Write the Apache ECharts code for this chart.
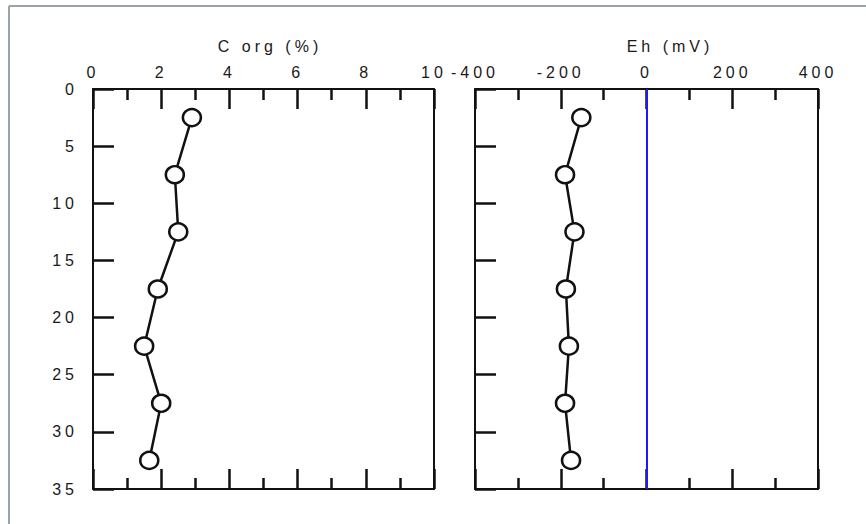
<!DOCTYPE html>
<html>
<head>
<meta charset="utf-8">
<script src="https://cdn.jsdelivr.net/npm/echarts@6/dist/echarts.min.js"></script>
<style>
html,body{margin:0;padding:0;background:#fff;}
#c{width:866px;height:524px;}
#c text{letter-spacing:4px;}
</style>
</head>
<body>
<div id="c"></div>
<script>
const depths = [2.5, 7.5, 12.5, 17.5, 22.5, 27.5, 32.5];
const corgValues = [2.9, 2.4, 2.5, 1.9, 1.5, 2.0, 1.65];
const ehValues = [-152, -190, -168, -188, -181, -190, -176];
const depthTicks = [0, 5, 10, 15, 20, 25, 30, 35];
const corgTicks = [0, 2, 4, 6, 8, 10];
const ehTicks = [-400, -200, 0, 200, 400];
const titles = ['C org (%)', 'Eh (mV)'];

const FONT = 'Liberation Sans, Arial, sans-serif';
const TXT = '#1a1a1a';

function xAx(gridIndex, min, max, interval, top) {
  return {
    type: 'value', gridIndex: gridIndex, position: top ? 'top' : 'bottom',
    min: min, max: max, interval: interval,
    axisLine: {show: true, onZero: false, lineStyle: {color: '#111', width: 2}},
    axisTick: {show: true, inside: true, length: 20, lineStyle: {color: '#111', width: 2.5}},
    minorTick: {show: true, splitNumber: 2, length: 11, lineStyle: {color: '#111', width: 2.5}},
    axisLabel: {show: top, fontSize: 16, fontFamily: FONT, color: TXT, margin: 9},
    splitLine: {show: false}
  };
}
function yAx(gridIndex, labels, left) {
  return {
    type: 'value', gridIndex: gridIndex, inverse: true, position: left ? 'left' : 'right',
    min: depthTicks[0], max: depthTicks[depthTicks.length - 1], interval: depthTicks[1] - depthTicks[0],
    axisLine: {show: true, onZero: false, lineStyle: {color: '#111', width: 2}},
    axisTick: {show: left, inside: true, length: 21, lineStyle: {color: '#111', width: 2.5}},
    axisLabel: {show: labels, fontSize: 16, fontFamily: FONT, color: TXT, margin: 15},
    splitLine: {show: false}
  };
}

const chart = echarts.init(document.getElementById('c'), null, {renderer: 'svg'});
const markerStyle = {color: '#fff', borderColor: '#111', borderWidth: 2.5};
chart.setOption({
  animation: false,
  backgroundColor: '#fff',
  title: [
    {text: titles[0], left: 265, top: 33, textAlign: 'center',
     textStyle: {fontSize: 16, fontWeight: 'normal', fontFamily: FONT, color: TXT}},
    {text: titles[1], left: 665, top: 33, textAlign: 'center',
     textStyle: {fontSize: 16, fontWeight: 'normal', fontFamily: FONT, color: TXT}}
  ],
  graphic: [
    {type: 'line', shape: {x1: 9, y1: 6, x2: 866, y2: 6}, style: {stroke: '#9aa2aa', lineWidth: 2}},
    {type: 'line', shape: {x1: 9, y1: 6, x2: 9, y2: 524}, style: {stroke: '#9aa2aa', lineWidth: 2}}
  ],
  grid: [
    {left: 93, top: 89, width: 341, height: 400},
    {left: 475, top: 89, width: 343, height: 400}
  ],
  xAxis: [
    xAx(0, corgTicks[0], corgTicks[corgTicks.length - 1], corgTicks[1] - corgTicks[0], true),
    xAx(0, corgTicks[0], corgTicks[corgTicks.length - 1], corgTicks[1] - corgTicks[0], false),
    xAx(1, ehTicks[0], ehTicks[ehTicks.length - 1], ehTicks[1] - ehTicks[0], true),
    xAx(1, ehTicks[0], ehTicks[ehTicks.length - 1], ehTicks[1] - ehTicks[0], false)
  ],
  yAxis: [
    yAx(0, true, true),
    yAx(0, false, false),
    yAx(1, false, true),
    yAx(1, false, false)
  ],
  series: [
    {
      type: 'line', xAxisIndex: 0, yAxisIndex: 0,
      data: depths.map((d, i) => [corgValues[i], d]),
      symbol: 'circle', symbolSize: [18, 17],
      lineStyle: {color: '#111', width: 2.5},
      itemStyle: markerStyle
    },
    {
      type: 'line', xAxisIndex: 2, yAxisIndex: 2,
      data: depths.map((d, i) => [ehValues[i], d]),
      symbol: 'circle', symbolSize: [18, 17],
      lineStyle: {color: '#111', width: 2.5},
      itemStyle: markerStyle,
      markLine: {
        silent: true, symbol: ['none', 'none'], label: {show: false},
        lineStyle: {color: '#1a1aff', width: 2, type: 'solid'},
        data: [{xAxis: 0}]
      }
    }
  ]
});
</script>
</body>
</html>
